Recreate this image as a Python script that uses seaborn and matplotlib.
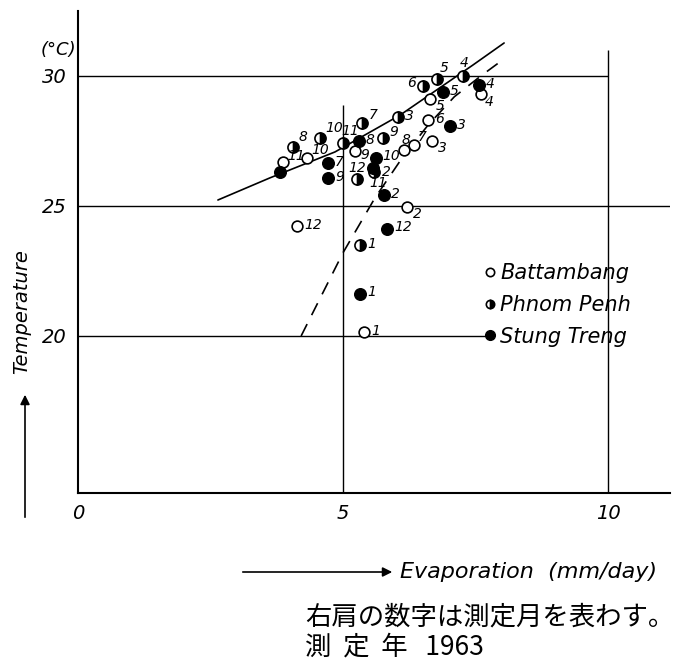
import numpy as np
import pandas as pd
import matplotlib.pyplot as plt
import seaborn as sns
from matplotlib.lines import Line2D

# monthly values (evaporation mm/day, temperature degC)
months = list(range(1, 13))

evap_battambang = [5.40, 6.21, 6.68, 7.60, 6.64, 6.60, 6.34, 6.15, 5.23, 4.32, 3.87, 4.13]
temp_battambang = [20.15, 24.96, 27.50, 29.31, 29.12, 28.31, 27.35, 27.15, 27.12, 26.85, 26.69, 24.23]

evap_phnompenh = [5.32, 5.58, 6.04, 7.26, 6.77, 6.51, 5.36, 4.06, 5.75, 4.57, 5.00, 5.26]
temp_phnompenh = [23.50, 26.31, 28.42, 30.00, 29.88, 29.62, 28.19, 27.27, 27.62, 27.62, 27.42, 26.04]

evap_stungtreng = [5.32, 5.77, 7.02, 7.57, 6.89, 3.81, 4.72, 5.30, 4.72, 5.62, 5.57, 5.83]
temp_stungtreng = [21.62, 25.42, 28.08, 29.65, 29.38, 26.31, 26.65, 27.50, 26.08, 26.85, 26.46, 24.12]

# hand drawn trend curves
curve_solid_x = [2.64, 3.62, 4.85, 6.08, 7.45, 8.04]
curve_solid_y = [25.23, 26.08, 27.08, 28.50, 30.42, 31.27]
curve_dash_x = [4.21, 5.00, 5.60, 6.10, 6.60, 7.10, 7.60, 8.00]
curve_dash_y = [20.00, 23.20, 25.30, 26.80, 28.10, 29.20, 30.00, 30.60]

stations = ["Battambang", "Phnom Penh", "Stung Treng"]

df = pd.concat([
    pd.DataFrame({"station": "Battambang", "month": months, "evap": evap_battambang, "temp": temp_battambang}),
    pd.DataFrame({"station": "Phnom Penh", "month": months, "evap": evap_phnompenh, "temp": temp_phnompenh}),
    pd.DataFrame({"station": "Stung Treng", "month": months, "evap": evap_stungtreng, "temp": temp_stungtreng}),
])

# label placement (offset points) where it differs from the default
label_offsets = {
    ("Battambang", 2): (4, -5), ("Battambang", 3): (4, -5), ("Battambang", 4): (3, -6),
    ("Battambang", 5): (4, -5), ("Battambang", 7): (3, 6), ("Battambang", 8): (-2, 7),
    ("Battambang", 9): (4, -3), ("Battambang", 10): (3, 6), ("Battambang", 11): (3, 4),
    ("Phnom Penh", 2): (6, 0),
    ("Phnom Penh", 4): (-2, 9), ("Phnom Penh", 5): (2, 8), ("Phnom Penh", 6): (-5, 2),
    ("Phnom Penh", 7): (5, 6), ("Phnom Penh", 8): (4, 7), ("Phnom Penh", 9): (5, 4),
    ("Phnom Penh", 10): (4, 7), ("Phnom Penh", 11): (-1, 9), ("Phnom Penh", 12): (0, 8),
    ("Stung Treng", 11): (-3, -11),
}
hidden_labels = {("Stung Treng", 6)}

sns.set_theme(style="white")
plt.rcParams["font.family"] = ["DejaVu Sans", "Noto Sans CJK JP"]
plt.rcParams["text.color"] = "black"
plt.rcParams["xtick.color"] = "black"
plt.rcParams["ytick.color"] = "black"

fig = plt.figure(figsize=(6.82, 6.60), dpi=100)
ax = fig.add_axes([78 / 682, 1 - 493 / 660, 592 / 682, 482 / 660])
ax.set_xlim(0, 11.17)
ax.set_ylim(13.96, 32.5)

# reference lines
ax.hlines(30, 0, 10, color="black", lw=1.0, zorder=1)
ax.hlines(25, 0, 11.17, color="black", lw=1.0, zorder=1)
ax.hlines(20, 0, 7.75, color="black", lw=1.0, zorder=1)
ax.vlines(5, 13.96, 28.9, color="black", lw=1.0, zorder=1)
ax.vlines(10, 13.96, 31.0, color="black", lw=1.0, zorder=1)

# trend curves
ax.plot(curve_solid_x, curve_solid_y, color="black", lw=1.2, zorder=2)
ax.plot(curve_dash_x, curve_dash_y, color="black", lw=1.2, dashes=(8, 6), zorder=2)

# points
sub = df[df.station == "Battambang"]
sns.scatterplot(data=sub, x="evap", y="temp", marker="o", s=60, facecolor="white",
                edgecolor="black", linewidth=1.2, ax=ax, zorder=3, legend=False)
sub = df[df.station == "Phnom Penh"]
sns.lineplot(data=sub, x="evap", y="temp", estimator=None, sort=False, linestyle="",
             marker="o", markersize=8, fillstyle="right", markerfacecolor="black",
             markerfacecoloralt="white", markeredgecolor="black", markeredgewidth=1.2,
             color="black", ax=ax, zorder=3, legend=False)
sub = df[df.station == "Stung Treng"]
sns.scatterplot(data=sub, x="evap", y="temp", marker="o", s=70, color="black",
                edgecolor="black", linewidth=1.0, ax=ax, zorder=3, legend=False)

for _, r in df.iterrows():
    key = (r.station, r.month)
    if key in hidden_labels:
        continue
    dx, dy = label_offsets.get(key, (5, 1))
    if dx < -3:
        ha = "right"
    elif dx == 0:
        ha = "center"
    else:
        ha = "left"
    ax.annotate(str(r.month), (r.evap, r.temp), xytext=(dx, dy), textcoords="offset points",
                fontsize=10, style="italic", ha=ha, va="center", zorder=4)

# axes styling
for side in ["top", "right"]:
    ax.spines[side].set_visible(False)
for side in ["left", "bottom"]:
    ax.spines[side].set_color("black")
    ax.spines[side].set_linewidth(1.5)
ax.set_xticks([0, 5, 10])
ax.set_xticklabels(["0", "5", "10"])
ax.set_yticks([20, 25, 30])
ax.set_yticklabels(["20", "25", "30"])
ax.tick_params(length=0, labelsize=14, pad=8)
for t in ax.get_xticklabels() + ax.get_yticklabels():
    t.set_style("italic")
ax.set_xlabel("")
ax.set_ylabel("")

# legend
handles = [
    Line2D([], [], ls="", marker="o", ms=6, mfc="white", mec="black", mew=1.2),
    Line2D([], [], ls="", marker="o", ms=6, fillstyle="right", mfc="black",
           mfcalt="white", mec="black", mew=1.2),
    Line2D([], [], ls="", marker="o", ms=7, mfc="black", mec="black"),
]
ax.legend(handles, stations, loc="center left", bbox_to_anchor=(0.664, 0.39),
          frameon=False, borderpad=0, handlelength=0.8, handletextpad=0.1,
          labelspacing=0.56, prop={"size": 15, "style": "italic"})

# axis captions with arrows
fig.text(58 / 682, 1 - 50 / 660, "(°C)", fontsize=13, style="italic", ha="center", va="center")
fig.text(22 / 682, 1 - 312 / 660, "Temperature", fontsize=14, style="italic",
         rotation=90, ha="center", va="center")
ax.annotate("", xy=(25, 660 - 392), xytext=(25, 660 - 520), xycoords="figure pixels",
            textcoords="figure pixels",
            arrowprops=dict(arrowstyle="-|>", color="black", lw=1.2, mutation_scale=14))
ax.annotate("", xy=(395, 660 - 572), xytext=(240, 660 - 572), xycoords="figure pixels",
            textcoords="figure pixels",
            arrowprops=dict(arrowstyle="-|>", color="black", lw=1.2, mutation_scale=14))
fig.text(400 / 682, 1 - 572 / 660, "Evaporation  (mm/day)", fontsize=16, style="italic",
         ha="left", va="center")

# notes in Japanese
cjk = ["Noto Sans CJK JP", "DejaVu Sans"]
fig.text(305 / 682, 1 - 617 / 660, "右肩の数字は測定月を表わす。", fontsize=19,
         family=cjk, ha="left", va="center")
fig.text(305 / 682, 1 - 647 / 660, "測  定  年   1963", fontsize=19,
         family=cjk, ha="left", va="center")

fig.savefig("out.png", dpi=100)
plt.close(fig)
